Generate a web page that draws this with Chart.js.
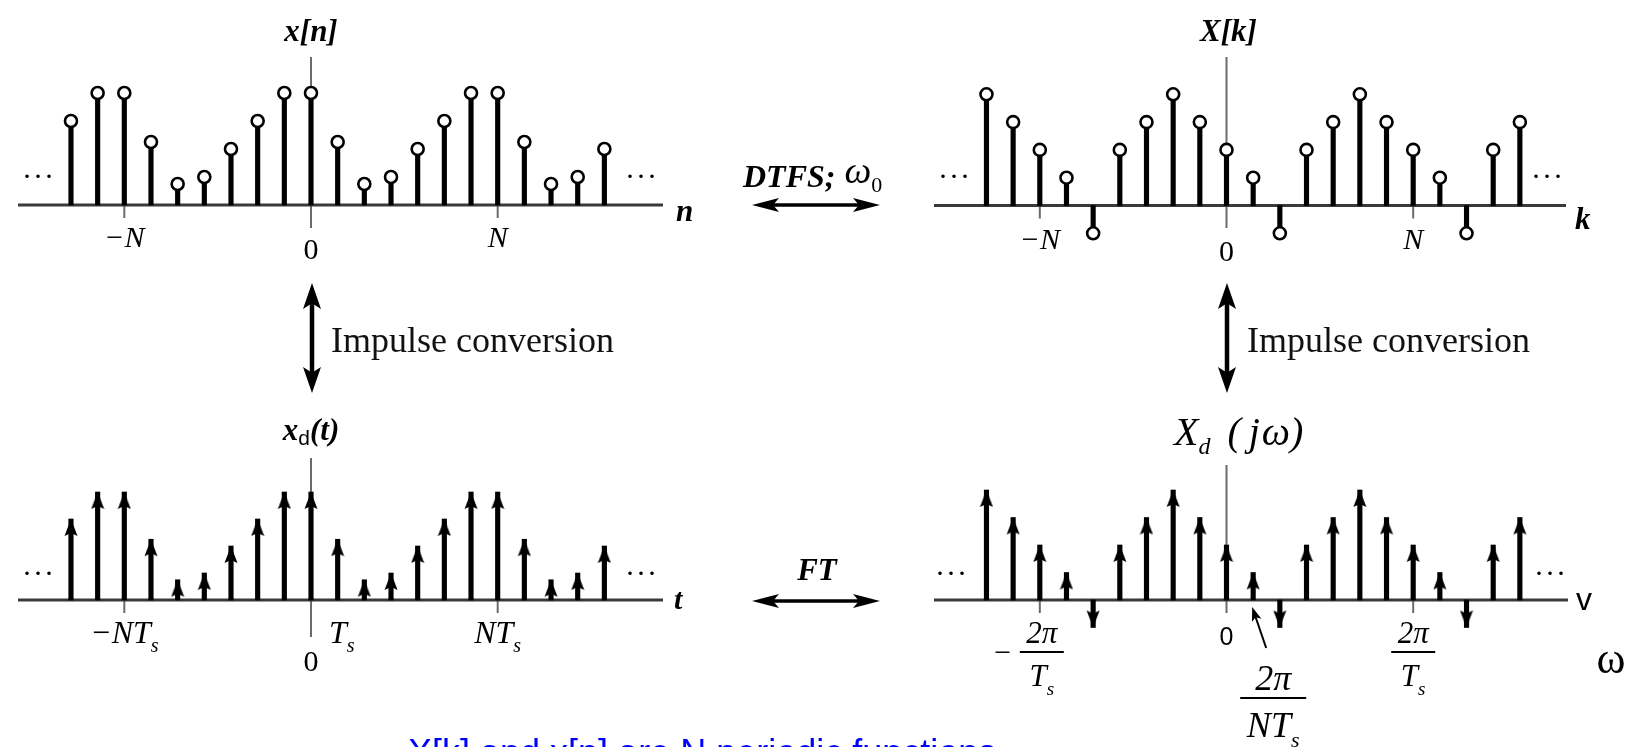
<!DOCTYPE html>
<html lang="en">
<head>
<meta charset="UTF-8">
<title>DTFS and FT of a sampled periodic signal</title>
<script src="https://cdn.jsdelivr.net/npm/chart.js"></script>
<style>
  body { margin: 0; background: #fff; }
  #wrap { position: relative; width: 1641px; height: 747px; overflow: hidden; }
  #wrap canvas { position: absolute; left: 0; top: 0; }
</style>
</head>
<body>
<div id="wrap">
  <canvas id="tl" width="1641" height="747"></canvas>
  <canvas id="tr" width="1641" height="747"></canvas>
  <canvas id="bl" width="1641" height="747"></canvas>
  <canvas id="br" width="1641" height="747"></canvas>
</div>
<script>
const W = 1641, H = 747;
const SERIF = '"Liberation Serif","Times New Roman",serif';
const SANS = '"Liberation Sans",Arial,sans-serif';

// sample index shown in each panel (n, k, or multiples of Ts / 2pi/NTs)
const idx = [-9, -8, -7, -6, -5, -4, -3, -2, -1, 0, 1, 2, 3, 4, 5, 6, 7, 8, 9, 10, 11];
// x[n], period N = 7
const xn = [3, 4, 4, 2.25, 0.75, 1, 2, 3, 4, 4, 2.25, 0.75, 1, 2, 3, 4, 4, 2.25, 0.75, 1, 2];
// X[k]
const Xk = [4, 3, 2, 1, -1, 2, 3, 4, 3, 2, 1, -1, 2, 3, 4, 3, 2, 1, -1, 2, 3];
// impulse conversion keeps the weights
const xd = xn;
const Xd = Xk;
const N = 7;
const tickVals = [-N, 0, N];
const seqTickText = ['−N', '0', 'N'];
const xdTickText = ['−NT_s', '0', 'NT_s'];

// panel geometry (pixels): plot box, where 0 sits, pixels per unit
const boxes = {
  tl: { left: 18, right: 663, top: 45, bottom: 250, zx: 311, zy: 205, dx: 26.67, dy: 28, axTop: 57, axBot: 228 },
  tr: { left: 934, right: 1566, top: 45, bottom: 250, zx: 1226.5, zy: 205.5, dx: 26.67, dy: 27.8, axTop: 57, axBot: 228 },
  bl: { left: 18, right: 663, top: 440, bottom: 650, zx: 311, zy: 600, dx: 26.67, dy: 27, axTop: 458, axBot: 637 },
  br: { left: 934, right: 1568, top: 440, bottom: 650, zx: 1226.5, zy: 600, dx: 26.67, dy: 27.5, axTop: 465, axBot: 613 }
};

// arrow head used as point style, tip at the image centre
const arrowImg = (function () {
  const c = document.createElement('canvas');
  c.width = 14; c.height = 36;
  const g = c.getContext('2d');
  g.fillStyle = '#000';
  g.beginPath();
  g.moveTo(7, 18); g.lineTo(13.5, 35); g.lineTo(7, 32); g.lineTo(0.5, 35);
  g.closePath(); g.fill();
  return c;
})();

// text helpers
function runs(ctx, parts, x, y, align) {
  let w = 0;
  parts.forEach(p => { ctx.font = p.f; p.w = ctx.measureText(p.t).width + (p.gap || 0); w += p.w; });
  let cx = align === 'left' ? x : x - w / 2;
  ctx.textAlign = 'left'; ctx.textBaseline = 'alphabetic';
  parts.forEach(p => { ctx.font = p.f; ctx.fillText(p.t, cx, y + (p.dy || 0)); cx += p.w; });
}
function rich(ctx, s, x, y, px, style, align, family) {
  family = family || SERIF;
  const parts = s.split(/(_.)/).filter(Boolean).map(t => t[0] === '_'
    ? { t: t.slice(1), f: `${style} ${Math.round(px * 0.62)}px ${family}`, dy: px * 0.28 }
    : { t: t, f: `${style} ${px}px ${family}` });
  runs(ctx, parts, x, y, align);
}
function frac(ctx, num, den, cx, yNum, yBar, yDen, bw, px) {
  rich(ctx, num, cx, yNum, px, 'italic');
  rich(ctx, den, cx, yDen, px, 'italic');
  ctx.fillRect(cx - bw / 2, yBar - 1, bw, 2);
}
function head(ctx, x1, y1, x2, y2, len, half) {
  const a = Math.atan2(y2 - y1, x2 - x1);
  ctx.save(); ctx.translate(x2, y2); ctx.rotate(a);
  ctx.beginPath();
  ctx.moveTo(0, 0); ctx.lineTo(-len, -half); ctx.lineTo(-len * 0.78, 0); ctx.lineTo(-len, half);
  ctx.closePath(); ctx.fill();
  ctx.restore();
}
function arrow(ctx, x1, y1, x2, y2, lw, len, half, both) {
  ctx.strokeStyle = '#000'; ctx.fillStyle = '#000'; ctx.lineWidth = lw;
  const d = Math.hypot(x2 - x1, y2 - y1), ux = (x2 - x1) / d, uy = (y2 - y1) / d;
  const s = both ? len * 0.7 : 0;
  ctx.beginPath();
  ctx.moveTo(x1 + ux * s, y1 + uy * s);
  ctx.lineTo(x2 - ux * len * 0.7, y2 - uy * len * 0.7);
  ctx.stroke();
  head(ctx, x1, y1, x2, y2, len, half);
  if (both) head(ctx, x2, y2, x1, y1, len, half);
}
function dots(ctx, cx, y) {
  ctx.fillStyle = '#000';
  rich(ctx, '. . .', cx, y, 22, 'bold');
}

function makePanel(id, box, values, marker, deco) {
  const pts = idx.map((n, i) => ({ x: n, y: values[i] }));
  const circle = marker === 'circle';
  return new Chart(document.getElementById(id), {
    type: 'bar',
    data: {
      datasets: [
        {
          type: 'scatter', data: pts, order: 0, clip: false,
          pointStyle: circle ? 'circle' : arrowImg,
          pointRadius: circle ? 6 : 8,
          pointBackgroundColor: '#fff', pointBorderColor: '#000',
          pointBorderWidth: circle ? 2.6 : 0,
          pointRotation: c => (c.raw && c.raw.y < 0 ? 180 : 0)
        },
        {
          type: 'bar', data: pts, order: 1, clip: false,
          backgroundColor: '#000', borderWidth: 0, barThickness: 4.5
        }
      ]
    },
    options: {
      responsive: false, animation: false, events: [],
      layout: { padding: { left: box.left, right: W - box.right, top: box.top, bottom: H - box.bottom } },
      plugins: { legend: { display: false }, tooltip: { enabled: false } },
      scales: {
        x: { type: 'linear', display: false, offset: false,
             min: (box.left - box.zx) / box.dx, max: (box.right - box.zx) / box.dx },
        y: { type: 'linear', display: false,
             min: (box.zy - box.bottom) / box.dy, max: (box.zy - box.top) / box.dy }
      }
    },
    plugins: [{
      id: 'frame_' + id,
      beforeDatasetsDraw(chart) {
        const ctx = chart.ctx, a = chart.chartArea, x = chart.scales.x, y = chart.scales.y;
        const x0 = x.getPixelForValue(0), y0 = y.getPixelForValue(0);
        ctx.save();
        ctx.strokeStyle = '#6b6b6b'; ctx.lineWidth = 2;
        ctx.beginPath(); ctx.moveTo(x0, box.axTop); ctx.lineTo(x0, box.axBot); ctx.stroke();
        tickVals.forEach(v => {
          if (v === 0) return;
          const px = x.getPixelForValue(v);
          ctx.beginPath(); ctx.moveTo(px, y0); ctx.lineTo(px, y0 + 13); ctx.stroke();
        });
        ctx.strokeStyle = '#3a3a3a'; ctx.lineWidth = 3;
        ctx.beginPath(); ctx.moveTo(a.left, y0); ctx.lineTo(a.right, y0); ctx.stroke();
        ctx.restore();
      },
      afterDraw(chart) {
        const ctx = chart.ctx;
        ctx.save(); ctx.fillStyle = '#000';
        deco(ctx, chart.scales.x, chart.scales.y);
        ctx.restore();
      }
    }]
  });
}

// arrows and captions between the panels
function notes(ctx) {
  ctx.fillStyle = '#000';
  runs(ctx, [
    { t: 'DTFS;', f: 'italic bold 32px ' + SERIF, gap: 9 },
    { t: 'ω', f: 'italic 38px ' + SERIF, dy: -4 },
    { t: '0', f: '22px ' + SERIF, dy: 5 }
  ], 743, 187, 'left');
  arrow(ctx, 752, 205, 880, 205, 3.5, 27, 7, true);
  ctx.fillStyle = '#000';
  rich(ctx, 'FT', 817, 580, 31, 'italic bold');
  arrow(ctx, 752, 601, 880, 601, 3.5, 27, 7, true);
  arrow(ctx, 312, 283, 312, 393, 4.5, 26, 9, true);
  arrow(ctx, 1227, 283, 1227, 393, 4.5, 26, 9, true);
  ctx.fillStyle = '#111';
  ctx.font = '36px ' + SERIF; ctx.textAlign = 'left'; ctx.textBaseline = 'alphabetic';
  ctx.fillText('Impulse conversion', 331, 352);
  ctx.fillText('Impulse conversion', 1247, 352);
  ctx.fillStyle = '#0000ff';
  ctx.font = '36px ' + SANS;
  ctx.fillText('X[k] and x[n] are N periodic functions', 408, 765);
}

makePanel('tl', boxes.tl, xn, 'circle', (ctx, x) => {
  const x0 = x.getPixelForValue(0);
  rich(ctx, 'x[n]', x0, 41, 31, 'italic bold');
  tickVals.forEach((v, i) => rich(ctx, seqTickText[i], x.getPixelForValue(v), v === 0 ? 259 : 247, 30, v === 0 ? '' : 'italic'));
  rich(ctx, 'n', 676, 221, 31, 'italic bold', 'left');
  dots(ctx, 38, 178); dots(ctx, 641, 178);
  notes(ctx);
});

makePanel('tr', boxes.tr, Xk, 'circle', (ctx, x) => {
  const x0 = x.getPixelForValue(0);
  rich(ctx, 'X[k]', x0 + 2, 41, 31, 'italic bold');
  tickVals.forEach((v, i) => rich(ctx, seqTickText[i], x.getPixelForValue(v), v === 0 ? 261 : 249, 30, v === 0 ? '' : 'italic'));
  rich(ctx, 'k', 1575, 229, 31, 'italic bold', 'left');
  dots(ctx, 954, 178); dots(ctx, 1547, 178);
});

makePanel('bl', boxes.bl, xd, 'arrow', (ctx, x) => {
  const x0 = x.getPixelForValue(0);
  runs(ctx, [
    { t: 'x', f: 'italic bold 31px ' + SERIF },
    { t: 'd', f: '21px ' + SANS, dy: 5 },
    { t: '(t)', f: 'italic bold 31px ' + SERIF }
  ], x0, 440);
  tickVals.forEach((v, i) => {
    if (v === 0) rich(ctx, '0', x0, 671, 30, '');
    else rich(ctx, xdTickText[i], x.getPixelForValue(v), 643, 32, 'italic');
  });
  rich(ctx, 'T_s', x.getPixelForValue(1) + 4, 643, 32, 'italic');
  rich(ctx, 't', 674, 609, 30, 'italic bold', 'left');
  dots(ctx, 38, 575); dots(ctx, 641, 575);
});

makePanel('br', boxes.br, Xd, 'arrow', (ctx, x) => {
  const x0 = x.getPixelForValue(0);
  runs(ctx, [
    { t: 'X', f: 'italic 40px ' + SERIF },
    { t: 'd', f: 'italic 24px ' + SERIF, dy: 9, gap: 17 },
    { t: '(', f: 'italic 40px ' + SERIF, gap: 8 },
    { t: 'j', f: 'italic 40px ' + SERIF, gap: 2 },
    { t: 'ω', f: 'italic 40px ' + SERIF },
    { t: ')', f: 'italic 40px ' + SERIF }
  ], 1174, 445, 'left');
  const xm = x.getPixelForValue(-N), xp = x.getPixelForValue(N), x1 = x.getPixelForValue(1);
  ctx.font = '30px ' + SERIF; ctx.textAlign = 'center';
  ctx.fillText('−', xm - 37, 662);
  frac(ctx, '2π', 'T_s', xm + 2, 643, 652, 686, 44, 31);
  frac(ctx, '2π', 'T_s', xp, 643, 652, 686, 44, 31);
  rich(ctx, '0', x0, 645, 25, '', 'center', SANS);
  frac(ctx, '2π', 'NT_s', x1 + 20, 690, 698, 737, 66, 36);
  arrow(ctx, x1 + 13, 648, x1 - 1, 607, 2, 14, 5, false);
  ctx.fillStyle = '#000';
  rich(ctx, 'v', 1584, 610, 32, '', 'center', SANS);
  rich(ctx, 'ω', 1611, 673, 44, '');
  dots(ctx, 951, 575); dots(ctx, 1550, 575);
});
</script>
</body>
</html>
